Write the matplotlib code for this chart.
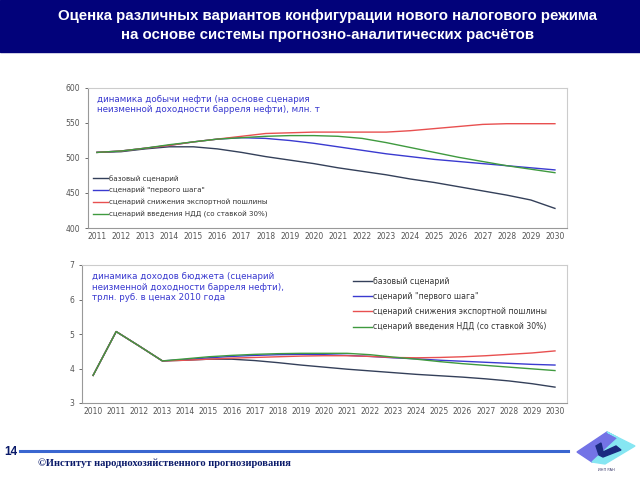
import numpy as np
import matplotlib.pyplot as plt
from matplotlib.patches import Polygon, Rectangle

years_top = [str(y) for y in range(2011, 2031)]
base_top = [508, 509, 513, 516, 516, 513, 508, 502, 497, 492, 486, 481, 476, 470, 465, 459, 453, 447, 440, 428]
first_top = [508, 510, 514, 518, 523, 527, 529, 528, 525, 521, 516, 511, 506, 502, 498, 495, 492, 489, 486, 483]
export_top = [508, 510, 514, 518, 523, 527, 531, 535, 536, 537, 537, 537, 537, 539, 542, 545, 548, 549, 549, 549]
ndd_top = [508, 510, 514, 519, 523, 527, 529, 531, 532, 532, 531, 528, 522, 515, 508, 501, 495, 489, 484, 479]

years_bot = [str(y) for y in range(2010, 2031)]
base_bot = [3.80, 5.07, 4.65, 4.22, 4.24, 4.27, 4.27, 4.23, 4.17, 4.10, 4.04, 3.98, 3.93, 3.88, 3.83, 3.79, 3.75, 3.70, 3.64, 3.56, 3.46]
first_bot = [3.80, 5.07, 4.65, 4.22, 4.26, 4.31, 4.35, 4.38, 4.40, 4.41, 4.40, 4.38, 4.35, 4.31, 4.28, 4.24, 4.21, 4.18, 4.15, 4.12, 4.10]
export_bot = [3.80, 5.07, 4.65, 4.22, 4.24, 4.27, 4.30, 4.32, 4.34, 4.36, 4.37, 4.37, 4.35, 4.32, 4.31, 4.32, 4.34, 4.37, 4.41, 4.45, 4.51]
ndd_bot = [3.80, 5.07, 4.65, 4.22, 4.28, 4.34, 4.38, 4.41, 4.43, 4.44, 4.44, 4.44, 4.40, 4.33, 4.27, 4.20, 4.14, 4.09, 4.04, 3.99, 3.94]

labels = ['базовый сценарий', 'сценарий "первого шага"',
          'сценарий снижения экспортной пошлины',
          'сценарий введения НДД (со ставкой 30%)']
colors = ['#34405a', '#3a3ad0', '#e85050', '#3f9a3f']

W, H = 640, 480


def rect(x0, y0, x1, y1):
    return [x0 / W, 1 - y1 / H, (x1 - x0) / W, (y1 - y0) / H]


def fpts(pts):
    return [(x / W, 1 - y / H) for x, y in pts]


def style(ax):
    for s in ['top', 'right']:
        ax.spines[s].set_color('#cccccc')
    for s in ['left', 'bottom']:
        ax.spines[s].set_color('#999999')
    for s in ax.spines.values():
        s.set_linewidth(0.8)
    ax.tick_params(labelsize=5.5, colors='#555555', length=2, width=0.6)


fig = plt.figure(figsize=(6.4, 4.8), dpi=100)
fig.patch.set_facecolor('white')

# header
fig.patches.append(Rectangle((0, 1 - 52 / H), 1, 52 / H, transform=fig.transFigure,
                             color='#02027a', zorder=0))
fig.text(0.512, 1 - 16 / H, 'Оценка различных вариантов конфигурации нового налогового режима',
         ha='center', va='center', color='white', fontsize=10.8, fontweight='bold',
         family='Liberation Sans')
fig.text(0.512, 1 - 35 / H, 'на основе системы прогнозно-аналитических расчётов',
         ha='center', va='center', color='white', fontsize=10.8, fontweight='bold',
         family='Liberation Sans')

# top chart
ax1 = fig.add_axes(rect(88, 88, 567, 228))
x1 = np.arange(len(years_top))
for d, c, l in zip([base_top, first_top, export_top, ndd_top], colors, labels):
    ax1.plot(x1, d, color=c, lw=1.0, label=l)
ax1.set_xlim(-0.37, 19.5)
ax1.set_ylim(400, 600)
ax1.set_yticks([400, 450, 500, 550, 600])
ax1.set_xticks(x1)
ax1.set_xticklabels(years_top)
style(ax1)
ax1.tick_params(axis='x', length=0, pad=3)
ax1.text(0.018, 0.95, 'динамика добычи нефти (на основе сценария\nнеизменной доходности барреля нефти), млн. т',
         transform=ax1.transAxes, fontsize=6.3, color='#3a3ad0', va='top', linespacing=1.2)
ax1.legend(loc='lower left', bbox_to_anchor=(0.01, 0.075), fontsize=5.1, frameon=False,
           borderaxespad=0, borderpad=0,
           handlelength=2.1, handletextpad=0.25, labelspacing=0.75, labelcolor='#333333')

# bottom chart
ax2 = fig.add_axes(rect(82, 265, 567, 403))
x2 = np.arange(len(years_bot))
for d, c, l in zip([base_bot, first_bot, export_bot, ndd_bot], colors, labels):
    ax2.plot(x2, d, color=c, lw=1.0, label=l)
ax2.set_xlim(-0.48, 20.52)
ax2.set_ylim(3, 7)
ax2.set_yticks([3, 4, 5, 6, 7])
ax2.set_xticks(x2)
ax2.set_xticklabels(years_bot)
style(ax2)
ax2.tick_params(axis='x', length=0, pad=3)
ax2.text(0.02, 0.95, 'динамика доходов бюджета (сценарий\nнеизменной доходности барреля нефти),\nтрлн. руб. в ценах 2010 года',
         transform=ax2.transAxes, fontsize=6.3, color='#3a3ad0', va='top', linespacing=1.25)
ax2.legend(loc='upper left', bbox_to_anchor=(0.559, 0.915), fontsize=5.6, frameon=False,
           borderaxespad=0, borderpad=0,
           handlelength=2.45, handletextpad=0.12, labelspacing=0.8, labelcolor='#333333')

# footer
fig.text(4 / W, 1 - 452 / H, '14', fontsize=8.5, fontweight='bold', color='#0a1a6a',
         va='center', family='Liberation Sans')
fig.add_artist(plt.Line2D([20 / W, 568 / W], [1 - 451 / H, 1 - 451 / H], color='#3a66d0',
                          lw=2.2, transform=fig.transFigure))
fig.text(38 / W, 1 - 463 / H, '©Институт народнохозяйственного прогнозирования', fontsize=7.6,
         fontweight='bold', color='#0a1a6a', va='center', family='Liberation Serif')
# logo
fig.patches.append(Polygon(fpts([(577, 452), (607, 432), (618, 438), (592, 462)]),
                           transform=fig.transFigure, color='#7373e6'))
fig.patches.append(Polygon(fpts([(607, 432), (635, 446), (605, 464), (592, 462), (618, 438)]),
                           transform=fig.transFigure, color='#86e6f2'))
fig.patches.append(Polygon(fpts([(596, 446), (601, 443), (603, 452), (616, 446), (621, 450),
                                 (603, 457), (599, 455)]),
                           transform=fig.transFigure, color='#1a2a80'))
fig.text(606 / W, 1 - 470 / H, 'ИНП РАН', fontsize=2.6, color='#333366', ha='center', va='center')

fig.savefig('out.png', dpi=100)
